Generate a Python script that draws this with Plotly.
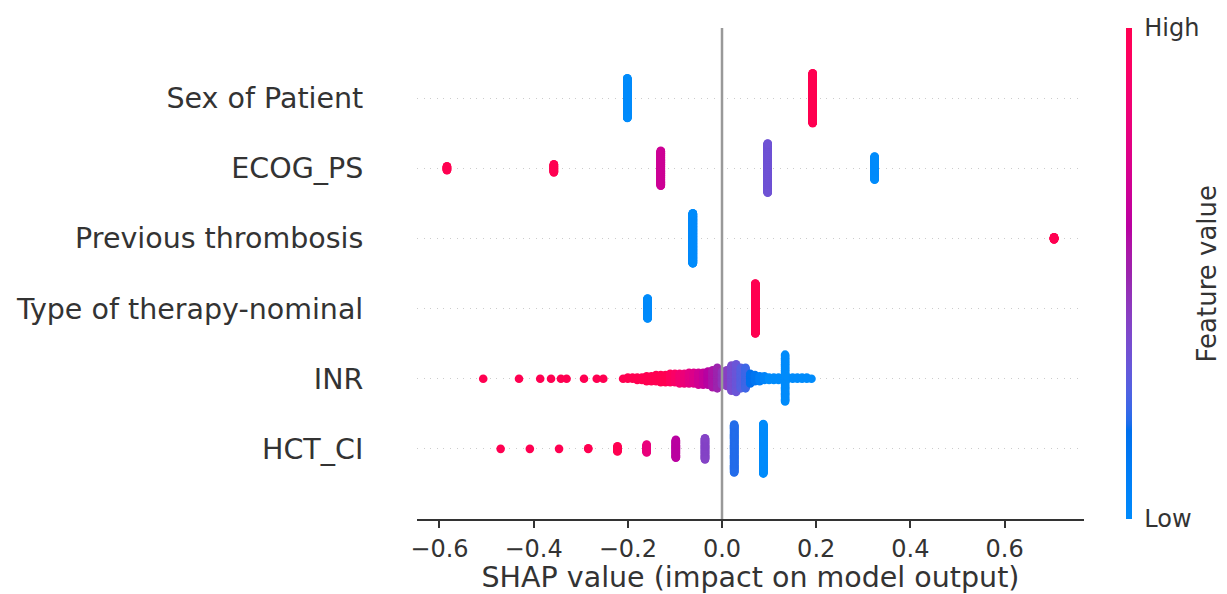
import numpy as np
import plotly.graph_objects as go

# ---------------- data ----------------
features = ["HCT_CI", "INR", "Type of therapy-nominal",
            "Previous thrombosis", "ECOG_PS", "Sex of Patient"]  # bottom -> top

# each feature: SHAP value of a cluster, number of patients in it, normalised feature value (0=low,1=high)
sex_shap = [-0.201, 0.1925]
sex_n = [133, 167]
sex_c = [0.0, 1.0]

ecog_shap = [0.324, 0.097, -0.130, -0.357, -0.584]
ecog_n = [58, 122, 87, 21, 11]
ecog_c = [0.0, 0.333, 0.667, 1.0, 1.0]

prev_shap = [-0.062, 0.705]
prev_n = [286, 14]
prev_c = [0.0, 1.0]

ther_shap = [-0.158, 0.0708]
ther_n = [86, 214]
ther_c = [0.0, 1.0]

inr_shap = [-0.507, -0.431, -0.386, -0.363, -0.342, -0.330, -0.293, -0.266, -0.252,
            -0.21, -0.20, -0.19, -0.18, -0.17, -0.16, -0.15, -0.14, -0.13, -0.12,
            -0.11, -0.10, -0.09, -0.08, -0.07, -0.06, -0.05, -0.04, -0.03, -0.02,
            -0.01, 0.00, 0.01, 0.02, 0.03, 0.04, 0.05, 0.06, 0.07, 0.08, 0.09,
            0.10, 0.11, 0.12, 0.134, 0.14, 0.15, 0.16, 0.17, 0.18, 0.19]
inr_n = [1, 1, 1, 1, 1, 1, 1, 1, 1,
         1, 2, 2, 3, 3, 5, 5, 6, 7, 7,
         8, 8, 9, 9, 10, 10, 11, 11, 12, 15,
         18, 12, 14, 22, 24, 18, 18, 9, 6, 5, 4,
         3, 3, 3, 40, 2, 2, 2, 2, 2, 1]
inr_c = [1.0, 1.0, 1.0, 1.0, 1.0, 1.0, 1.0, 1.0, 1.0,
         1.0, 1.0, 1.0, 1.0, 1.0, 1.0, 1.0, 1.0, 1.0, 1.0,
         0.95, 0.91, 0.86, 0.82, 0.77, 0.73, 0.68, 0.64, 0.59, 0.55,
         0.50, 0.45, 0.41, 0.36, 0.32, 0.27, 0.23, 0.18, 0.14, 0.09, 0.05,
         0.0, 0.0, 0.0, 0.0, 0.0, 0.0, 0.0, 0.0, 0.0, 0.0]

hct_shap = [0.0877, 0.0258, -0.0361, -0.098, -0.160, -0.222, -0.284, -0.346, -0.408, -0.470]
hct_n = [95, 92, 41, 35, 16, 11, 2, 1, 1, 1]
hct_c = [0.0, 0.2, 0.4, 0.6, 0.8, 1.0, 1.0, 1.0, 1.0, 1.0]

x_tickvals = [-0.6, -0.4, -0.2, 0.0, 0.2, 0.4, 0.6]
x_ticktext = ["\u22120.6", "\u22120.4", "\u22120.2", "0.0", "0.2", "0.4", "0.6"]
x_range = [-0.6476, 0.7686]

rows = [(hct_shap, hct_n, hct_c), (inr_shap, inr_n, inr_c), (ther_shap, ther_n, ther_c),
        (prev_shap, prev_n, prev_c), (ecog_shap, ecog_n, ecog_c), (sex_shap, sex_n, sex_c)]


# ---------------- shap red_blue colormap ----------------
def lch_to_rgb(L, C, H):
    a = C * np.cos(H)
    b = C * np.sin(H)
    fy = (L + 16.0) / 116.0
    fx = fy + a / 500.0
    fz = max(fy - b / 200.0, 0.0)

    def finv(t):
        return t ** 3 if t > 0.2068966 else (t - 16.0 / 116.0) / 7.787

    xyz = np.array([finv(fx) * 0.95047, finv(fy), finv(fz) * 1.08883])
    M = np.linalg.inv(np.array([[0.412453, 0.357580, 0.180423],
                                [0.212671, 0.715160, 0.072169],
                                [0.019334, 0.119193, 0.950227]]))
    lin = M @ xyz
    pos = np.clip(lin, 0, None)
    rgb = np.where(lin > 0.0031308, 1.055 * np.power(pos, 1 / 2.4) - 0.055, 12.92 * lin)
    return np.clip(rgb, 0, 1)


blue_lch = [54.0, 70.0, 4.6588]
l_mid = 40.0
red_lch = [54.0, 90.0, 0.35470565 + 2 * np.pi]
nsteps = 100
l_vals = list(np.linspace(blue_lch[0], l_mid, nsteps // 2)) + list(np.linspace(l_mid, red_lch[0], nsteps // 2))
c_vals = np.linspace(blue_lch[1], red_lch[1], nsteps)
h_vals = np.linspace(blue_lch[2], red_lch[2], nsteps)
cscale = []
for p, l, c, h in zip(np.linspace(0, 1, nsteps), l_vals, c_vals, h_vals):
    r, g, b = lch_to_rgb(l, c, h)
    cscale.append([float(p), "rgb(%d,%d,%d)" % (round(r * 255), round(g * 255), round(b * 255))])


# ---------------- beeswarm layout (as in shap.summary_plot) ----------------
def swarm(vals, row, nbins=100, row_height=0.4):
    vals = np.asarray(vals, float)
    n = len(vals)
    quant = np.round(nbins * (vals - vals.min()) / (vals.max() - vals.min() + 1e-8))
    inds = np.argsort(quant, kind="stable")
    layer = 0
    last = None
    ys = np.zeros(n)
    for ind in inds:
        if quant[ind] != last:
            layer = 0
        ys[ind] = np.ceil(layer / 2) * ((layer % 2) * 2 - 1)
        layer += 1
        last = quant[ind]
    ys *= 0.9 * (row_height / np.max(ys + 1))
    return row + ys


all_x, all_y, all_c = [], [], []
for i, (sv, nn, cc) in enumerate(rows):
    xv = np.repeat(np.asarray(sv, float), nn)
    cv = np.repeat(np.asarray(cc, float), nn)
    yv = swarm(xv, i)
    all_x.append(xv)
    all_y.append(yv)
    all_c.append(cv)
all_x = np.concatenate(all_x)
all_y = np.concatenate(all_y)
all_c = np.concatenate(all_c)

FONT = "DejaVu Sans"
TXT = "#333333"

fig = go.Figure()
fig.add_trace(go.Scatter(
    x=all_x, y=all_y, mode="markers", hoverinfo="skip", showlegend=False,
    marker=dict(size=8.6, color=all_c, colorscale=cscale, cmin=0, cmax=1,
                line=dict(width=0),
                colorbar=dict(thickness=6, thicknessmode="pixels",
                              len=491, lenmode="pixels",
                              x=1.063, xanchor="left", xpad=0,
                              y=0.5, yanchor="middle", ypad=0,
                              outlinewidth=0, tickvals=[0, 1], ticktext=["Low", "High"],
                              ticks="outside", ticklen=8, tickcolor="rgba(0,0,0,0)",
                              tickfont=dict(family=FONT, size=24, color=TXT)))))

fig.add_shape(type="line", xref="x", yref="paper", x0=0, x1=0, y0=0, y1=1,
              line=dict(color="#999999", width=2.5), layer="above")

fig.add_annotation(text="Feature value", xref="paper", yref="paper", x=1.1844, y=0.5,
                   textangle=-90, showarrow=False, xanchor="center", yanchor="middle",
                   font=dict(family=FONT, size=26, color=TXT))

fig.update_layout(
    width=1227, height=594,
    margin=dict(l=417, r=143, t=28, b=75, autoexpand=False),
    paper_bgcolor="white", plot_bgcolor="white",
    font=dict(family=FONT, color=TXT),
    xaxis=dict(range=x_range, tickvals=x_tickvals, ticktext=x_ticktext,
               showgrid=False, zeroline=False, showline=True, linecolor=TXT, linewidth=1.8,
               ticks="outside", ticklen=7, tickwidth=1.8, tickcolor=TXT,
               tickfont=dict(family=FONT, size=24, color=TXT),
               title=dict(text="SHAP value (impact on model output)", standoff=6,
                          font=dict(family=FONT, size=28.5, color=TXT))),
    yaxis=dict(range=[-1, 6], tickvals=list(range(len(features))), ticktext=features,
               showgrid=True, gridcolor="#cccccc", gridwidth=1.1, griddash="1px,5.6px",
               zeroline=False, showline=False,
               ticks="outside", ticklen=47, tickcolor="rgba(0,0,0,0)",
               tickfont=dict(family=FONT, size=28.5, color=TXT)),
)

fig.write_html("out.html")
